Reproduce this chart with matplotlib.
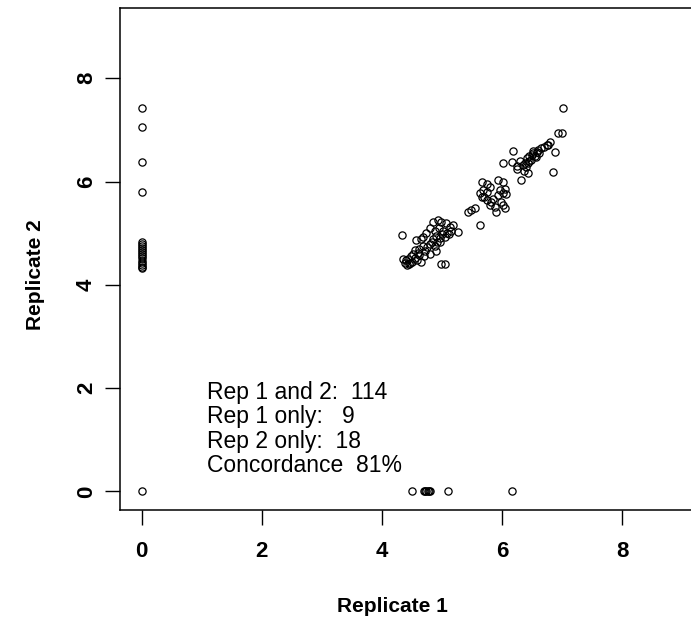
"""Replicate concordance scatter plot."""

import matplotlib
matplotlib.use("Agg")
import matplotlib.pyplot as plt

# detected in both replicates
both_rep1 = [
    7.01, 6.93, 7.00, 6.80, 6.74, 6.88, 6.85, 6.77, 6.70,
    6.18, 6.41, 6.45, 6.50, 6.52, 6.55, 6.58, 6.60, 6.62, 6.48, 6.44,
    6.38, 6.35, 6.30, 6.25, 6.16, 6.24, 6.43, 6.02, 6.32, 6.43,
    6.36, 6.40, 6.52, 6.65, 6.57,
    5.66, 5.74, 5.93, 6.02, 5.63, 5.68, 5.79, 5.96, 6.04, 5.66,
    5.74, 5.85, 5.93, 6.02, 6.07, 5.79, 5.88, 6.02, 6.04, 5.90,
    5.70, 5.75, 5.82, 5.98,
    5.43, 5.49, 5.55, 5.63,
    4.33, 4.57, 4.68, 4.74, 4.85, 4.93, 4.99, 5.07, 5.13, 5.18,
    5.27, 4.80, 4.88, 4.95, 5.02, 5.08, 4.90, 4.97, 5.05, 5.12,
    4.85, 4.92, 4.80, 4.75, 4.83, 4.88, 4.96, 5.00, 4.99, 5.05,
    4.80, 4.90, 4.65, 4.70, 4.72, 4.60, 4.55, 4.50, 4.45, 4.40,
    4.35, 4.42, 4.48, 4.52, 4.58, 4.62, 4.68, 4.65, 4.55, 4.47,
    4.38, 5.15, 4.43, 4.62,
]
both_rep2 = [
    7.42, 6.94, 6.94, 6.77, 6.71, 6.58, 6.19, 6.70, 6.66,
    6.59, 6.45, 6.50, 6.52, 6.55, 6.50, 6.58, 6.62, 6.55, 6.42, 6.40,
    6.35, 6.32, 6.40, 6.30, 6.38, 6.25, 6.35, 6.35, 6.03, 6.16,
    6.20, 6.28, 6.60, 6.65, 6.48,
    5.99, 5.96, 6.03, 5.99, 5.77, 5.83, 5.90, 5.83, 5.86, 5.71,
    5.64, 5.67, 5.74, 5.77, 5.76, 5.54, 5.51, 5.54, 5.48, 5.41,
    5.70, 5.80, 5.60, 5.60,
    5.41, 5.45, 5.48, 5.16,
    4.96, 4.86, 4.93, 5.00, 5.22, 5.26, 5.22, 5.19, 5.12, 5.16,
    5.03, 5.10, 5.05, 5.10, 5.05, 5.00, 4.95, 4.90, 4.92, 4.98,
    4.88, 4.82, 4.80, 4.73, 4.83, 4.75, 4.82, 4.98, 4.41, 4.41,
    4.60, 4.65, 4.45, 4.55, 4.65, 4.62, 4.52, 4.45, 4.40, 4.48,
    4.50, 4.38, 4.55, 4.60, 4.48, 4.70, 4.75, 4.88, 4.68, 4.42,
    4.42, 5.05, 4.50, 4.58,
]

# detected only in replicate 1
rep1_only = [4.50, 4.70, 4.72, 4.74, 4.76, 4.78, 4.80, 5.10, 6.17]

# detected only in replicate 2
rep2_only = [7.42, 7.06, 6.37, 5.79, 4.83, 4.79, 4.75, 4.71, 4.67, 4.63,
             4.59, 4.55, 4.51, 4.47, 4.43, 4.39, 4.35, 4.32]

summary = "Rep 1 and 2:  114\nRep 1 only:   9\nRep 2 only:  18\nConcordance  81%"

plt.rcParams["font.family"] = ["Liberation Sans", "DejaVu Sans"]

fig = plt.figure(figsize=(6.91, 6.21), dpi=100)
ax = fig.add_axes([120 / 691, 111 / 621, 584 / 691, 502 / 621])

style = dict(marker="o", linestyle="none", markersize=5.2,
             markerfacecolor="none", markeredgecolor="black",
             markeredgewidth=0.9)
ax.plot(both_rep1, both_rep2, **style)
ax.plot(rep1_only, [0] * len(rep1_only), **style)
ax.plot([0] * len(rep2_only), rep2_only, **style)
ax.plot([0], [0], **style)

ax.set_xlim(-0.36, 9.36)
ax.set_ylim(-0.36, 9.36)
ax.set_xticks([0, 2, 4, 6, 8])
ax.set_yticks([0, 2, 4, 6, 8])
ax.tick_params(direction="out", length=10.5, width=1, labelsize=16)
ax.tick_params(axis="x", pad=11.5)
ax.tick_params(axis="y", pad=6)
for lab in ax.get_xticklabels() + ax.get_yticklabels():
    lab.set_fontweight("bold")
for lab in ax.get_yticklabels():
    lab.set_rotation(90)
    lab.set_verticalalignment("center")
for sp in ax.spines.values():
    sp.set_linewidth(1.1)

ax.set_xlabel("Replicate 1", fontsize=15, fontweight="bold")
ax.set_ylabel("Replicate 2", fontsize=15, fontweight="bold")
ax.xaxis.set_label_coords(0.467, -0.174)
ax.yaxis.set_label_coords(-0.128, 0.468)

ax.text(1.09, 2.14, summary, fontsize=16.5, va="top", ha="left",
        linespacing=1.08)

fig.savefig("out.png", dpi=100)
